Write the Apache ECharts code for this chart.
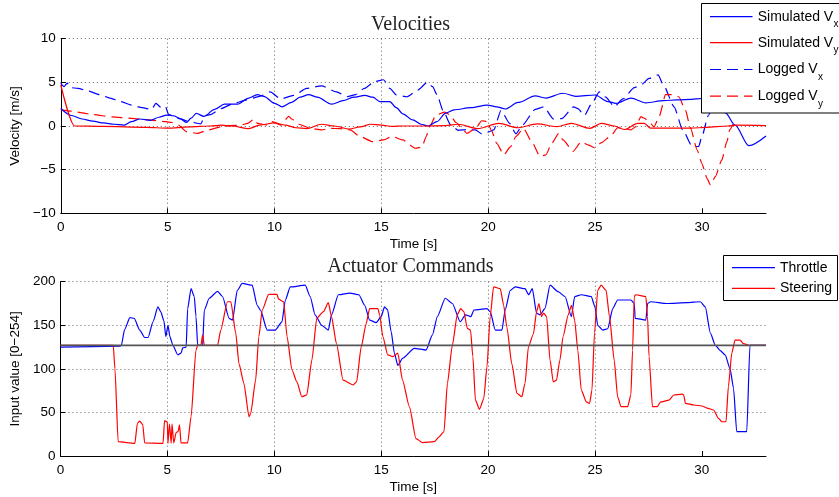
<!DOCTYPE html>
<html><head><meta charset="utf-8">
<script src="https://cdn.jsdelivr.net/npm/echarts@6/dist/echarts.min.js"></script>
<style>html,body{margin:0;padding:0;background:#fff}#c{width:839px;height:497px}</style>
</head><body><div id="c"></div>
<script>
// ---- Velocities (top) ----
const simVxT = [0,0.5,1,1.5,2,2.5,2.95,3.3,3.7,4.2,4.6,4.95,5.3,5.6,5.88,6.1,6.34,6.7,7.2,7.66,8.27,8.8,9.2,9.5,10.0,10.36,10.8,11.2,11.6,12.0,12.68,13.2,13.7,14.23,14.6,14.93,15.39,15.7,16.0,16.47,16.86,17.2,17.6,18.0,18.4,19.2,19.95,20.4,20.8,21.4,22.2,22.7,23.5,24.1,25.0,25.6,25.98,26.68,27.38,28.2,28.85,29.5,30.0,30.4,30.8,31.1,31.55,32.2,33];
const simVxV = [2.0,1.2,0.8,0.55,0.35,0.2,0.1,0.5,0.8,0.65,1.0,1.25,1.15,0.8,0.4,0.9,1.45,1.1,1.9,2.5,2.5,3.2,3.6,3.4,2.6,2.2,2.7,3.3,3.6,3.3,2.5,2.9,3.3,3.5,3.3,2.8,2.8,2.1,1.4,0.7,0.2,0.0,0.5,1.45,1.85,2.1,2.4,2.2,1.95,2.7,3.45,3.2,3.75,3.4,3.55,2.8,2.6,3.2,2.65,2.9,3.0,3.05,3.15,2.9,2.1,1.5,0.1,-2.25,-1.15];

const simVyT = [0,0.65,2,4,5,6,7,7.5,8,8.8,9.3,10,10.5,11,11.5,12.2,12.8,13.5,14,14.5,15,15.5,16,17,18,18.6,19.5,20.5,21.4,22.3,23.2,23.9,24.75,25.3,25.9,26.37,27.0,27.3,27.6,28.2,29.5,30.2,31.2,31.6,33];
const simVyV = [4.7,0,-0.05,-0.15,-0.25,-0.1,0,0.1,0,-0.3,0.1,0.35,0.1,-0.2,-0.3,0.2,0,-0.35,-0.1,0.2,0.1,-0.05,0,0,0.05,0.2,-0.3,0.3,-0.2,0.25,-0.08,0.3,-0.27,0.3,0,-0.4,0.3,0.3,-0.25,-0.25,-0.25,-0.15,0,0.1,0.05];

const logVxT = [0,0.15,0.3,0.45,0.8,1.3,1.8,2.3,2.8,3.3,3.8,4.25,4.45,4.7,4.9,5.05,5.5,6.0,6.55,6.75,7.0,7.5,8.0,8.7,9.3,9.8,10.3,10.9,11.5,12.2,12.9,13.4,13.8,14.2,14.7,15.1,15.4,15.7,16.2,16.7,17.15,17.4,17.6,17.9,18.25,18.6,19.0,19.4,19.7,20.0,20.26,20.6,21.0,21.3,21.6,22.2,22.6,23.05,23.45,24.0,24.2,24.5,24.85,25.2,25.5,25.9,26.3,26.84,27.15,27.53,27.95,28.2,28.7,29.1,29.55,29.85,30.0,30.3,30.5];
const logVxV = [4.9,4.5,4.9,4.4,4.3,4.0,3.6,3.2,2.8,2.4,2.1,1.9,2.6,2.1,2.2,1.3,0.9,0.5,0.25,1.2,1.3,2.0,2.5,3.0,3.4,3.9,3.1,3.5,4.3,4.6,3.9,3.35,3.6,4.3,5.1,5.3,4.3,3.55,3.35,4.1,5.0,4.5,3.6,1.7,0.1,-0.5,-0.4,-0.45,-0.9,-0.7,-0.45,1.8,0.3,-0.9,0.1,1.9,2.2,0.8,0.85,2.2,2.0,1.2,2.6,3.9,3.3,2.2,3.1,4.4,4.7,5.45,5.85,4.7,2.2,-0.45,-2.35,-2.35,-1.2,1.2,2.4];

const logVyT = [0,0.5,1.0,1.5,2.4,3.3,4.1,4.9,5.2,5.5,5.88,6.4,6.9,7.5,7.9,8.43,8.74,9.05,9.2,9.67,9.9,10.3,10.67,10.8,11.14,11.68,12.2,12.6,13.07,13.54,14.0,14.6,15.1,15.5,16.0,16.6,16.9,17.1,17.25,17.55,17.94,18.2,18.5,18.75,19.0,19.4,19.7,19.95,20.15,20.4,20.73,21.04,21.3,21.65,22.04,22.43,22.7,22.97,23.3,23.5,23.97,24.36,24.7,24.98,25.3,25.75,26.06,26.37,26.68,26.9,27.15,27.3,27.53,27.76,28.0,28.3,28.6,28.92,29.23,29.47,29.78,30.0,30.24,30.4,30.63,30.93,31.17,31.3,31.45];
const logVyV = [1.85,1.7,1.5,1.3,1.05,0.88,0.7,0.5,0.4,0.1,-0.65,-0.85,-0.45,-0.1,0.05,0.1,0.3,0.8,0.3,0.1,0.5,0.1,1.1,0.8,0.2,-0.27,-0.45,-0.27,-0.3,-0.45,-1.2,-1.8,-1.6,-1.2,-1.6,-2.55,-2.4,-1.2,-0.1,1.2,1.6,1.3,0.4,-0.2,-0.85,-0.3,0.6,0.5,-0.5,-2.0,-3.3,-2.4,-1.2,-0.27,-1.8,-3.5,-3.3,-2.0,-0.85,-1.6,-2.9,-1.8,-2.2,-2.5,-1.9,-1.1,-0.2,-0.3,-0.45,-0.1,1.07,0.9,0.5,-0.1,1.07,3.6,3.6,3.35,1.8,-0.27,-2.75,-4.3,-6.0,-6.75,-5.8,-3.9,-1.8,-0.45,0.2];

// ---- Actuator commands (bottom) ----
const neutralT = [0,33];
const neutralV = [127,127];

const throttleT = [0,2.78,2.85,3.0,3.25,3.45,3.71,3.94,4.1,4.33,4.56,4.7,4.84,4.93,5.03,5.12,5.26,5.49,5.64,5.72,5.88,5.95,6.11,6.26,6.34,6.42,6.65,6.73,6.96,7.35,7.58,7.89,8.05,8.27,8.5,8.97,9.2,9.36,9.67,10.05,10.36,10.52,10.75,11.45,11.68,11.91,12.22,12.53,12.68,13.0,13.54,13.96,14.23,14.46,14.77,15.0,15.16,15.3,15.47,15.62,15.78,16.0,16.55,17.1,17.4,17.63,18.0,18.33,18.7,18.95,19.2,19.34,19.95,20.1,20.34,20.65,20.8,21.04,21.27,21.73,21.9,22.07,22.27,22.43,22.66,22.9,23.28,23.6,23.9,24.05,24.36,24.83,25.0,25.13,25.36,25.6,25.83,26.06,26.68,26.84,26.88,27.38,27.46,27.6,28.37,29.31,29.93,30.16,30.4,30.63,30.86,31.09,31.32,31.48,31.63,32.1,32.25,33];
const throttleV = [125,126,127,145,158.7,158,144.5,136,136,154,171,165,155,137,150,137,127,116,118,124,125,169,192,183,160,127,127,167.5,181,189,183,158,156,190,198,196,173,167,144.5,144.5,154,179,194,196,183,162,150,144.5,162,185,187,185,173,156,153,160,171,168,142.6,118,104,112,123.5,121.6,139,160,181,175,154,162,160,167.5,169,165.6,144.5,144.5,167.5,190,194,192,185,192,164,162,169,196,188.5,183,160,183,185,183,171,150,144.5,146,169,179,179,175,158,156,175,177,175,176,177,171,141,127,121,116,100,78,28,28,127,127];

const steeringT = [0,2.47,2.55,2.7,3.48,3.6,3.71,3.85,3.94,4.8,4.87,5.0,5.03,5.1,5.18,5.22,5.3,5.41,5.5,5.57,5.64,5.95,6.11,6.34,6.42,6.57,6.65,6.73,7.35,7.5,7.81,7.97,8.2,8.35,8.58,8.82,8.9,9.13,9.28,9.44,9.74,10.13,10.2,10.44,10.6,10.83,11.06,11.29,11.52,11.76,11.99,12.3,12.53,12.68,12.91,13.22,13.69,13.85,14.07,14.3,14.46,14.85,14.93,15.08,15.31,15.55,15.78,16.0,16.32,16.63,16.94,17.48,17.71,17.94,18.1,18.33,18.56,18.72,18.87,19.03,19.18,19.29,19.41,19.6,19.8,19.95,20.1,20.26,20.57,20.73,20.88,21.11,21.35,21.58,21.73,21.89,22.12,22.27,22.38,22.5,22.6,22.74,22.9,23.05,23.2,23.36,23.51,23.75,23.9,24.05,24.2,24.36,24.6,24.75,24.86,24.98,25.13,25.29,25.52,25.68,25.9,26.06,26.22,26.53,26.68,26.76,26.84,26.9,27.38,27.46,27.53,27.69,27.92,28.07,28.46,28.69,29.08,29.15,29.23,29.62,30.0,30.24,30.55,30.78,30.94,31.13,31.24,31.4,31.55,31.79,31.94,32.25,33];
const steeringV = [127,127,100,16.4,14.5,37.5,40,36,15,14.5,40.5,39,14.5,37,14.5,37,15,26.8,28,35.6,15,15,45,121.6,127,127,139,127,127,144.5,177,177,141,106,83.4,45,49,87,137,167.5,185.5,185.5,180,177,137,98.7,85,68,70,110,158,165.6,176,160,129,87,81.5,85,125.4,152,169,169,162,137,116,114,118,87,56.6,20,15.3,16.4,22,28,83.4,127,162,169,165.6,146.5,144.5,114,64,53.6,66,102.5,160,194,192,173,148,106,72,68,83.4,125.4,140,165.6,175,160,164,160,110,85,87,110,137,162,173,156,121,75.7,62,60.4,75.7,141,190,196,190,160,110,68,56.6,56.6,70,121.6,183,185,183,160,114,56.6,56.6,62,64,70,71,70,60.4,58.5,57.4,55,52.8,43.2,39.3,39.3,79.5,118,133,133,129,127,127];

const xTicks = [0,5,10,15,20,25,30];

function zip(t, v){ return t.map((x,i)=>[x, v[i]]); }
const SANS = 'Liberation Sans';
const DASH = [11,6];
const fmtMinus = v => v < 0 ? '\u2212' + Math.abs(v) : String(v);

function xAxisFor(gi){
  return {
    type:'value', gridIndex:gi, min:0, max:33, interval:5,
    name:'Time [s]', nameLocation:'middle', nameGap:24,
    nameTextStyle:{fontFamily:SANS, fontSize:13.5, color:'#000'},
    axisLine:{show:true, onZero:false, lineStyle:{color:'#000', width:1}},
    axisTick:{show:true, inside:true, length:5, customValues:xTicks, lineStyle:{color:'#000'}},
    axisLabel:{fontFamily:SANS, fontSize:13.5, color:'#000', margin:7, customValues:xTicks},
    splitLine:{show:true, showMaxLine:false, showMinLine:false, lineStyle:{color:'#666', width:1, type:[1,3]}}
  };
}
function yAxisFor(gi, min, max, iv, name){
  return {
    type:'value', gridIndex:gi, min:min, max:max, interval:iv,
    name:name, nameLocation:'middle', nameGap:36, nameRotate:90,
    nameTextStyle:{fontFamily:SANS, fontSize:13.5, color:'#000'},
    axisLine:{show:true, onZero:false, lineStyle:{color:'#000', width:1}},
    axisTick:{show:true, inside:true, length:5, lineStyle:{color:'#000'}},
    axisLabel:{fontFamily:SANS, fontSize:13.5, color:'#000', margin:5, formatter:fmtMinus},
    splitLine:{show:true, showMinLine:false, lineStyle:{color:'#666', width:1, type:[1,3]}}
  };
}
function lineSeries(name, xi, data, color, dashed, z, smooth){
  return {
    name:name, type:'line', xAxisIndex:xi, yAxisIndex:xi, data:data,
    showSymbol:false, symbol:'none', smooth: smooth || false, smoothMonotone:'x',
    animation:false, z:z||2,
    lineStyle:{color:color, width:1.2, type: dashed ? DASH : 'solid'},
    itemStyle:{color:color}
  };
}

const chart = echarts.init(document.getElementById('c'), null, {renderer:'canvas'});

function legendRow(x1, x2, y, color, dashed, label, sub, subX){
  const els = [
    {type:'line', shape:{x1:x1, y1:y, x2:x2, y2:y}, style:{stroke:color, lineWidth:1.2, lineDash: dashed ? DASH : null}, z:101},
    {type:'text', x:757.7, y:y, style:{text:label, fontFamily:SANS, fontSize:14, fill:'#000', align:'left', verticalAlign:'middle'}, z:101}
  ];
  if (sub) els.push({type:'text', x:subX, y:y+8, style:{text:sub, fontFamily:SANS, fontSize:10, fill:'#000', align:'left', verticalAlign:'middle'}, z:101});
  return els;
}

const graphics = [
  {type:'text', x:410.5, y:24.5, style:{text:'Velocities', fontFamily:'Liberation Serif', fontSize:20, fill:'#222', align:'center', verticalAlign:'middle'}, z:100},
  {type:'text', x:410.5, y:266.5, style:{text:'Actuator Commands', fontFamily:'Liberation Serif', fontSize:20, fill:'#222', align:'center', verticalAlign:'middle'}, z:100},
  {type:'rect', shape:{x:701.5, y:3.5, width:160, height:109.5}, style:{fill:'#fff', stroke:'#000', lineWidth:1}, z:100},
  ...legendRow(710, 752.5, 16.7, '#0000ff', false, 'Simulated V', 'x', 833.5),
  ...legendRow(710, 752.5, 42.7, '#ff0000', false, 'Simulated V', 'y', 833.5),
  ...legendRow(710, 752.5, 69.5, '#0000ff', true, 'Logged V', 'x', 818),
  ...legendRow(710, 752.5, 96.2, '#ff0000', true, 'Logged V', 'y', 818),
  {type:'rect', shape:{x:723.5, y:255.5, width:114, height:45}, style:{fill:'#fff', stroke:'#000', lineWidth:1}, z:100},
  {type:'line', shape:{x1:732, y1:267.7, x2:775, y2:267.7}, style:{stroke:'#0000ff', lineWidth:1.2}, z:101},
  {type:'line', shape:{x1:732, y1:288.3, x2:775, y2:288.3}, style:{stroke:'#ff0000', lineWidth:1.2}, z:101},
  {type:'text', x:780, y:267.7, style:{text:'Throttle', fontFamily:SANS, fontSize:14, fill:'#000', align:'left', verticalAlign:'middle'}, z:101},
  {type:'text', x:780, y:288.3, style:{text:'Steering', fontFamily:SANS, fontSize:14, fill:'#000', align:'left', verticalAlign:'middle'}, z:101}
];

chart.setOption({
  animation:false,
  backgroundColor:'#fff',
  grid:[
    {left:55, top:38.7, width:711, height:174.6},
    {left:55, top:281.7, width:711, height:174.3}
  ],
  xAxis:[xAxisFor(0), xAxisFor(1)],
  yAxis:[yAxisFor(0,-10,10,5,'Velocity [m/s]'), yAxisFor(1,0,200,50,'Input value [0\u2212254]')],
  series:[
    lineSeries('Logged Vx', 0, zip(logVxT, logVxV), '#0000ff', true, 2, 0.2),
    lineSeries('Logged Vy', 0, zip(logVyT, logVyV), '#ff0000', true, 2, 0.2),
    lineSeries('Simulated Vx', 0, zip(simVxT, simVxV), '#0000ff', false, 3, 0.3),
    lineSeries('Simulated Vy', 0, zip(simVyT, simVyV), '#ff0000', false, 3, 0.3),
    lineSeries('Throttle', 1, zip(throttleT, throttleV), '#0000ff', false, 2, 0.2),
    lineSeries('Steering', 1, zip(steeringT, steeringV), '#ff0000', false, 3, 0.2),
    Object.assign(lineSeries('Neutral', 1, zip(neutralT, neutralV), '#555555', false, 4), {lineStyle:{color:'#555555', width:1.8}})
  ],
  graphic:{elements:graphics}
});
</script>
</body></html>
